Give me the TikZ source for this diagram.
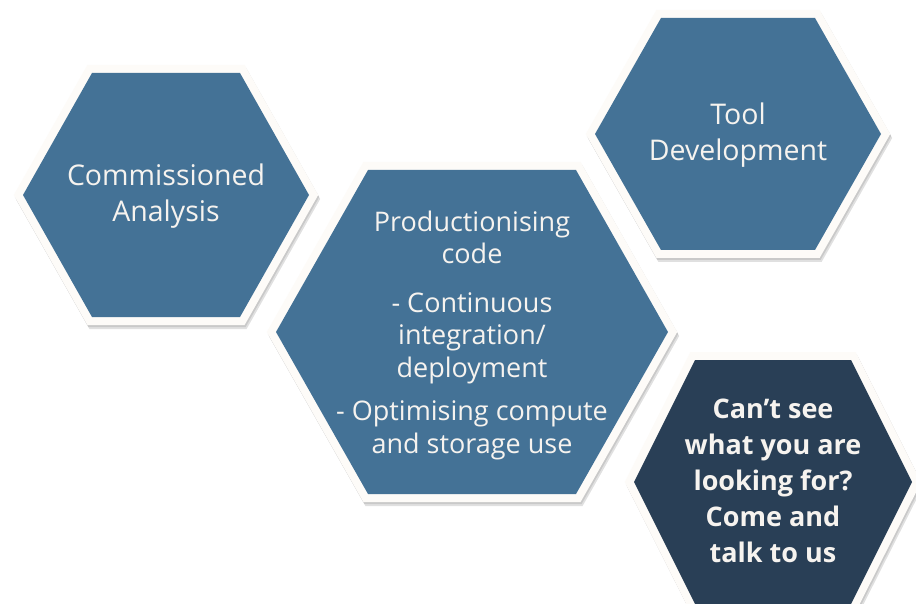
\documentclass[tikz,border=0pt]{standalone}
\usepackage{fontspec}
\setmainfont{Open Sans}
\definecolor{hexblue}{HTML}{447296}
\definecolor{hexdark}{HTML}{293F56}
\definecolor{hexborder}{HTML}{FDFBF8}
\definecolor{hextext}{HTML}{F6F3EF}
\newcommand{\hexat}[6]{%
  \pgfmathsetmacro\hxo{#3+9.2}\pgfmathsetmacro\hyo{#4+8}\pgfmathsetmacro\hto{#5+4.6}%
  \fill[black, opacity=.10, xshift=1pt, yshift=-2pt] (#1-\hxo,#2) -- (#1-\hto,#2-\hyo) -- (#1+\hto,#2-\hyo) -- (#1+\hxo,#2) -- (#1+\hto,#2+\hyo) -- (#1-\hto,#2+\hyo) -- cycle;
  \fill[black, opacity=.12, xshift=2pt, yshift=-4pt] (#1-\hxo,#2) -- (#1-\hto,#2-\hyo) -- (#1+\hto,#2-\hyo) -- (#1+\hxo,#2) -- (#1+\hto,#2+\hyo) -- (#1-\hto,#2+\hyo) -- cycle;
  \fill[hexborder] (#1-\hxo,#2) -- (#1-\hto,#2-\hyo) -- (#1+\hto,#2-\hyo) -- (#1+\hxo,#2) -- (#1+\hto,#2+\hyo) -- (#1-\hto,#2+\hyo) -- cycle;
  \fill[#6] (#1-#3,#2) -- (#1-#5,#2-#4) -- (#1+#5,#2-#4) -- (#1+#3,#2) -- (#1+#5,#2+#4) -- (#1-#5,#2+#4) -- cycle;
}
\tikzset{
  hextxt/.style={text=hextext, align=center, inner sep=0pt, font=\fontsize{28.5}{35.5}\selectfont},
  hexbold/.style={text=hextext, align=center, inner sep=0pt, font=\bfseries\fontsize{27}{36}\selectfont},
  hexmid/.style={text=hextext, align=center, inner sep=0pt, font=\fontsize{27}{32.5}\selectfont}
}
\begin{document}
\begin{tikzpicture}[x=1pt,y=-1pt]
\useasboundingbox[fill=white] (0,0) rectangle (916,604);
\hexat{166}{195}{143}{122}{74}{hexblue}
\hexat{738}{134}{143}{116}{77}{hexblue}
\hexat{472}{332}{196}{162}{104}{hexblue}
\hexat{773}{482}{139}{122}{78}{hexdark}
\node[hextxt] (ca) at (166,196) {Commissioned\\Analysis};
\node[hextxt] (td) at (738,135) {Tool\\Development};
\node[hexmid] (pc) at (472,335) {Productionising\\code\\[16pt]- Continuous\\integration/\\deployment\\[11pt]- Optimising compute\\and storage use};
\node[hexbold] (cs) at (773,481) {Can’t see\\what you are\\looking for?\\Come and\\talk to us};
\end{tikzpicture}
\end{document}
